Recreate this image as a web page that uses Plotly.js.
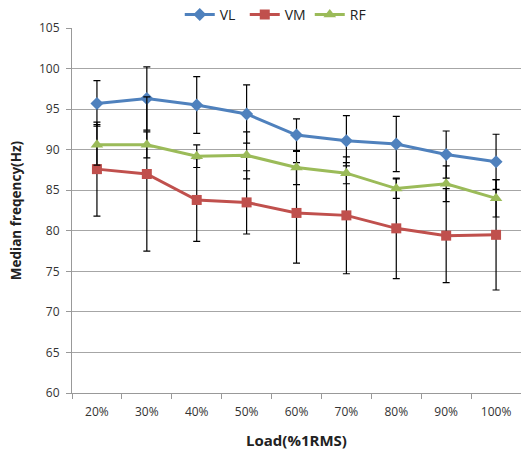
<!DOCTYPE html>
<html><head><meta charset="utf-8">
<script src="https://cdn.plot.ly/plotly-3.0.1.min.js"></script>
<style>html,body{margin:0;padding:0;background:#fff}#chart{width:521px;height:460px}</style>
</head><body><div id="chart"></div>
<script>
const categories = ["20%","30%","40%","50%","60%","70%","80%","90%","100%"];
const vl   = [95.7, 96.3, 95.5, 94.4, 91.8, 91.1, 90.7, 89.4, 88.5];
const vlSd = [2.8, 3.9, 3.5, 3.6, 2.0, 3.1, 3.4, 2.9, 3.4];
const vm   = [87.6, 87.0, 83.8, 83.5, 82.2, 81.9, 80.3, 79.4, 79.5];
const vmSd = [5.8, 9.5, 5.1, 3.9, 6.2, 7.2, 6.2, 5.8, 6.8];
const rf   = [90.6, 90.6, 89.2, 89.3, 87.8, 87.1, 85.2, 85.8, 84.0];
const rfSd = [2.5, 1.6, 1.4, 2.9, 2.1, 1.3, 1.2, 2.2, 2.3];

function series(name, y, sd, color, symbol, size){
  return {
    type:'scatter', mode:'lines+markers', name:name, x:categories, y:y,
    line:{color:color, width:3},
    marker:{color:color, symbol:symbol, size:size},
    error_y:{type:'data', array:sd, visible:true, color:'#000', thickness:1.2, width:3.5}
  };
}
const data = [
  series('VL', vl, vlSd, '#4F81BD', 'diamond', 10),
  series('VM', vm, vmSd, '#C0504D', 'square', 10),
  series('RF', rf, rfSd, '#9BBB59', 'triangle-up', 11)
];
const layout = {
  width:521, height:460,
  margin:{l:72, r:0, t:28, b:67, pad:0, autoexpand:false},
  paper_bgcolor:'#fff', plot_bgcolor:'#fff',
  font:{family:'Open Sans, sans-serif', size:12, color:'#333'},
  showlegend:true,
  legend:{orientation:'h', x:0.24, xanchor:'left', y:0.992, yanchor:'bottom',
          font:{size:14, color:'#222'}, itemwidth:30, entrywidth:20, entrywidthmode:'pixels'},
  xaxis:{type:'category', showgrid:false, showline:true, linecolor:'#999', linewidth:1,
         ticks:'outside', tickson:'boundaries', ticklen:5, tickcolor:'#999',
         ticklabelstandoff:8,
         tickfont:{size:12, color:'#333'},
         title:{text:'<b>Load(%1RMS)</b>', font:{size:15, color:'#222'}, standoff:16},
         range:[-0.5, 8.5]},
  yaxis:{range:[60,105], dtick:5, showgrid:true, gridcolor:'#a6a6a6', gridwidth:1,
         showline:true, linecolor:'#999', ticks:'outside', ticklen:5, tickcolor:'#999',
         ticklabelstandoff:4,
         zeroline:false, tickfont:{size:12, color:'#333'},
         title:{text:'<b>Median freqency(Hz)</b>', font:{size:13.5, color:'#222'}, standoff:14}}
};
Plotly.newPlot('chart', data, layout, {displayModeBar:false, staticPlot:true});
</script></body></html>
